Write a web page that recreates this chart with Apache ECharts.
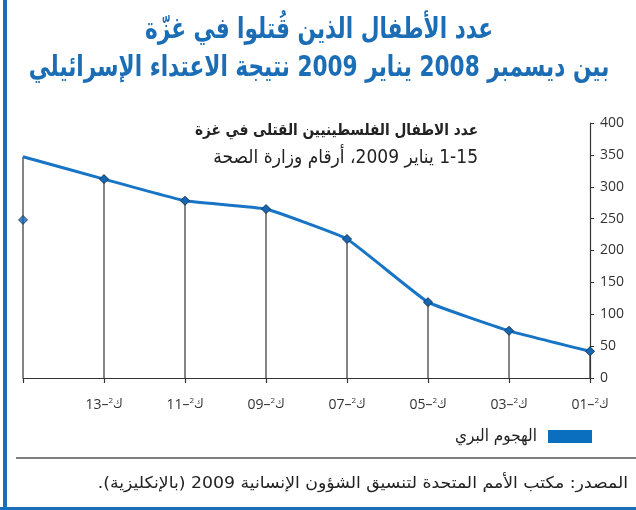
<!DOCTYPE html>
<html>
<head>
<meta charset="utf-8">
<script src="https://cdn.jsdelivr.net/npm/echarts@6/dist/echarts.min.js"></script>
<style>
html,body{margin:0;padding:0;background:#fff;}
#c{width:636px;height:510px;}
</style>
</head>
<body>
<div id="c"></div>
<script>
const RLM = '\u200F';
const titleLines = ['عدد الأطفال الذين قُتلوا في غزّة', 'بين ديسمبر 2008 يناير 2009 نتيجة الاعتداء الإسرائيلي'];
const subtitleLines = ['عدد الاطفال الفلسطينيين القتلى في غزة', '1-15 يناير 2009، أرقام وزارة الصحة'];
const sourceText = 'المصدر: مكتب الأمم المتحدة لتنسيق الشؤون الإنسانية 2009 (بالإنكليزية).';
const seriesName = 'الهجوم البري';
const categories = ['01', '03', '05', '07', '09', '11', '13', '15'];
const categoryLabels = ['01', '03', '05', '07', '09', '11', '13', ''];
const monthPrefix = 'ك';
const monthSup = '2';
const childrenKilled = [42, 74, 119, 218, 265, 278, 312, 347];
const loneMarkerCategory = '15';
const loneMarkerValue = 248;
const yTicks = [0, 50, 100, 150, 200, 250, 300, 350, 400];

const AR = "'DejaVu Sans Condensed','DejaVu Sans',sans-serif";
const NUM = "'Open Sans','DejaVu Sans',sans-serif";
const BLUE = '#1874c4';

const lastIdx = childrenKilled.length - 1;
const lineData = childrenKilled.map((v, i) => i === lastIdx ? {value: v, symbol: 'none'} : v);
const loneData = categories.map(c => c === loneMarkerCategory ? loneMarkerValue : null);

const chart = echarts.init(document.getElementById('c'), null, {renderer: 'canvas'});
chart.setOption({
  animation: false,
  backgroundColor: '#fff',
  grid: {left: 23, right: 46, top: 123, bottom: 132, containLabel: false},
  xAxis: {
    type: 'category',
    data: categories,
    inverse: true,
    boundaryGap: false,
    axisLine: {show: true, lineStyle: {color: '#333', width: 1.2}},
    axisTick: {show: true, length: 5, lineStyle: {color: '#333', width: 1.2}},
    axisLabel: {
      margin: 19,
      interval: 0,
      formatter: (v, i) => {
        const l = categoryLabels[i];
        if (!l) return '';
        return '{n|' + l + '–}{s|' + monthSup + '}{k|' + monthPrefix + '}';
      },
      rich: {
        n: {fontFamily: NUM, fontSize: 14, color: '#333', lineHeight: 16},
        s: {fontFamily: NUM, fontSize: 8, color: '#333', verticalAlign: 'top', lineHeight: 16},
        k: {fontFamily: AR, fontSize: 13, color: '#333', lineHeight: 16}
      }
    },
    splitLine: {show: false}
  },
  yAxis: {
    type: 'value',
    position: 'right',
    min: 0, max: 400, interval: 50,
    axisLine: {show: true, lineStyle: {color: '#333', width: 1.2}},
    axisTick: {show: true, length: 4, lineStyle: {color: '#333'}},
    axisLabel: {
      margin: 10, fontFamily: NUM, fontSize: 14, color: '#333',
      formatter: v => yTicks.includes(v) ? String(v) : ''
    },
    splitLine: {show: false}
  },
  legend: {
    data: [seriesName],
    right: 44, top: 428,
    padding: 0,
    align: 'right',
    icon: 'rect',
    itemWidth: 44, itemHeight: 13, itemGap: 10,
    itemStyle: {color: '#0b6fc0', borderWidth: 0},
    textStyle: {fontFamily: AR, fontSize: 17, color: '#222', padding: [4, 6, 0, 0]}
  },
  series: [
    {
      type: 'bar',
      name: 'drop',
      data: childrenKilled,
      barWidth: 1.2,
      itemStyle: {color: '#333'},
      silent: true,
      z: 1
    },
    {
      type: 'line',
      name: seriesName,
      data: lineData,
      smooth: 0.1,
      symbol: 'diamond',
      symbolSize: 9,
      showAllSymbol: true,
      lineStyle: {color: BLUE, width: 3},
      itemStyle: {color: '#1467b5', borderColor: '#1d3550', borderWidth: 1},
      z: 3
    },
    {
      type: 'scatter',
      name: 'lone',
      data: loneData,
      symbol: 'diamond',
      symbolSize: 9,
      itemStyle: {color: '#1467b5', borderColor: '#1d3550', borderWidth: 1},
      z: 4
    }
  ],
  graphic: [
    {type: 'rect', shape: {x: 3, y: 0, width: 4, height: 510}, style: {fill: '#1b6db5'}, silent: true},
    {type: 'rect', shape: {x: 0, y: 507, width: 636, height: 3}, style: {fill: '#1b6db5'}, silent: true},
    {type: 'line', shape: {x1: 16, y1: 458, x2: 636, y2: 458}, style: {stroke: '#555', lineWidth: 1.5}, silent: true},
    {type: 'text', x: 319, y: 30, scaleX: 0.83, style: {text: RLM + titleLines[0] + RLM, fontFamily: AR, fontWeight: 'bold', fontSize: 29, fill: '#1b6db5', textAlign: 'center', textVerticalAlign: 'middle'}},
    {type: 'text', x: 319, y: 68, scaleX: 0.83, style: {text: RLM + titleLines[1] + RLM, fontFamily: AR, fontWeight: 'bold', fontSize: 29, fill: '#1b6db5', textAlign: 'center', textVerticalAlign: 'middle'}},
    {type: 'text', x: 478, y: 131, scaleX: 0.95, style: {text: RLM + subtitleLines[0] + RLM, fontFamily: AR, fontWeight: 'bold', fontSize: 16, fill: '#222', textAlign: 'right', textVerticalAlign: 'middle'}},
    {type: 'text', x: 478, y: 158, style: {text: RLM + subtitleLines[1] + RLM, fontFamily: AR, fontSize: 19, fill: '#222', textAlign: 'right', textVerticalAlign: 'middle'}},
    {type: 'text', x: 628, y: 484, scaleX: 1.2, style: {text: RLM + sourceText + RLM, fontFamily: AR, fontSize: 16, fill: '#222', textAlign: 'right', textVerticalAlign: 'middle'}}
  ]
});
</script>
</body>
</html>
